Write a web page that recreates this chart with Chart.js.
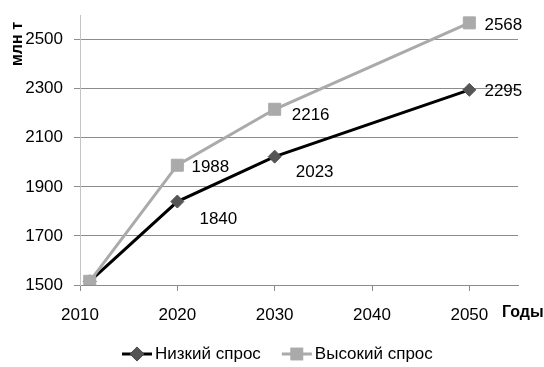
<!DOCTYPE html>
<html>
<head>
<meta charset="utf-8">
<script src="https://cdn.jsdelivr.net/npm/chart.js@4"></script>
<style>
  html, body { margin: 0; padding: 0; background: #fff; }
  canvas { display: block; }
</style>
</head>
<body>
<canvas id="c" width="544" height="367"></canvas>
<script>
// Demand forecast, million tonnes
const years = [2011, 2020, 2030, 2050];
const lowDemand = [1515, 1840, 2023, 2295];
const highDemand = [1515, 1988, 2216, 2568];
const xTickValues = [2010, 2020, 2030, 2040, 2050];
const yTickValues = [1500, 1700, 1900, 2100, 2300, 2500];
const seriesNames = ['Низкий спрос', 'Высокий спрос'];
const yTitle = 'млн т';
const xTitle = 'Годы';

const FONT = '"Liberation Sans", Arial, sans-serif';
const font = { family: FONT, size: 17 };

function toPoints(values) {
  return years.map((yr, i) => ({ x: yr, y: values[i] }));
}

// label offsets from each point (dx, dy), by dataset
const labelOffsets = [
  [null, [41, 18], [40, 16], [34, 1]],
  [null, [33, 2], [36, 6], [34, 2]]
];

const decor = {
  id: 'decor',
  afterDraw(chart) {
    const ctx = chart.ctx;
    ctx.save();
    // data labels
    ctx.fillStyle = '#000';
    ctx.font = `${font.size}px ${FONT}`;
    ctx.textAlign = 'center';
    ctx.textBaseline = 'middle';
    chart.data.datasets.forEach((ds, di) => {
      const meta = chart.getDatasetMeta(di);
      meta.data.forEach((pt, i) => {
        const off = labelOffsets[di][i];
        if (!off) return;
        ctx.fillText(String(ds.data[i].y), pt.x + off[0], pt.y + off[1]);
      });
    });

    // axis titles
    ctx.font = `bold 16px ${FONT}`;
    ctx.save();
    ctx.translate(18, 44);
    ctx.rotate(-Math.PI / 2);
    ctx.textAlign = 'center';
    ctx.textBaseline = 'middle';
    ctx.fillText(yTitle, 0, 0);
    ctx.restore();
    ctx.textAlign = 'left';
    ctx.textBaseline = 'middle';
    ctx.fillText(xTitle, 502, 313);

    // legend
    ctx.font = `${font.size}px ${FONT}`;
    const lineLen = 30, textGap = 3, itemGap = 21;
    const widths = chart.data.datasets.map(ds => ctx.measureText(ds.label).width);
    let x = 122;
    const y = 354;
    chart.data.datasets.forEach((ds, di) => {
      ctx.strokeStyle = ds.borderColor;
      ctx.lineWidth = ds.borderWidth;
      ctx.beginPath();
      ctx.moveTo(x, y);
      ctx.lineTo(x + lineLen, y);
      ctx.stroke();
      Chart.helpers.drawPoint(ctx, {
        pointStyle: ds.pointStyle,
        radius: ds.pointRadius * 0.8,
        borderWidth: 1
      }, x + lineLen / 2, y);
      ctx.fillStyle = ds.pointBackgroundColor;
      ctx.strokeStyle = ds.pointBorderColor;
      ctx.fill();
      ctx.stroke();
      ctx.fillStyle = '#000';
      ctx.textAlign = 'left';
      ctx.fillText(ds.label, x + lineLen + textGap, y);
      x += lineLen + textGap + widths[di] + itemGap;
    });
    ctx.restore();
  }
};

new Chart(document.getElementById('c'), {
  type: 'line',
  data: {
    datasets: [
      {
        label: seriesNames[0],
        data: toPoints(lowDemand),
        borderColor: '#000000',
        borderWidth: 3,
        pointStyle: 'rectRot',
        pointRadius: 6.5,
        pointBackgroundColor: '#555555',
        pointBorderColor: '#555555',
        pointBorderWidth: 1,
        tension: 0,
        order: 1
      },
      {
        label: seriesNames[1],
        data: toPoints(highDemand),
        borderColor: '#aaaaaa',
        borderWidth: 3,
        pointStyle: 'rect',
        pointRadius: 8.5,
        pointBackgroundColor: '#aaaaaa',
        pointBorderColor: '#aaaaaa',
        pointBorderWidth: 1,
        tension: 0,
        order: 0
      }
    ]
  },
  options: {
    responsive: false,
    animation: false,
    layout: { autoPadding: false, padding: { top: 15, right: 26, left: 0, bottom: 0 } },
    plugins: { legend: { display: false }, tooltip: { enabled: false } },
    scales: {
      x: {
        type: 'linear',
        min: 2010,
        max: 2055,
        afterBuildTicks: s => { s.ticks = xTickValues.map(v => ({ value: v })); },
        afterFit: s => { s.height = 82; s.paddingLeft = 0; s.paddingRight = 0; },
        grid: { drawOnChartArea: false, drawTicks: true, tickLength: 6, color: '#8c8c8c' },
        border: { color: '#8c8c8c' },
        ticks: { font, color: '#000', padding: 14, maxRotation: 0, callback: v => String(v) }
      },
      y: {
        min: 1500,
        max: 2600,
        afterBuildTicks: s => { s.ticks = yTickValues.map(v => ({ value: v })); },
        afterFit: s => { s.width = 80; s.paddingTop = 0; s.paddingBottom = 0; },
        grid: { color: '#8c8c8c', tickLength: 6 },
        border: { color: '#c4c4c4' },
        ticks: { font, color: '#000', padding: 11, callback: v => String(v) }
      }
    }
  },
  plugins: [decor]
});
</script>
</body>
</html>
